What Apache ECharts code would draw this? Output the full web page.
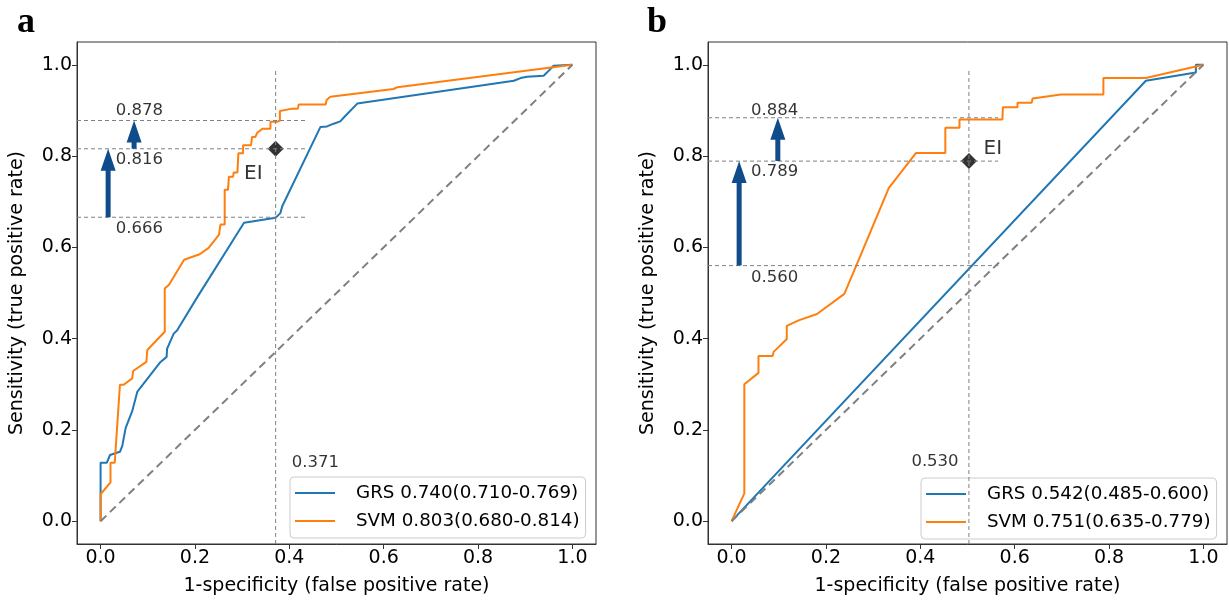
<!DOCTYPE html>
<html>
<head>
<meta charset="utf-8">
<script src="https://cdn.jsdelivr.net/npm/echarts@6/dist/echarts.min.js"></script>
<style>
  html, body { margin: 0; padding: 0; background: #fff; }
  #main { width: 1229px; height: 601px; }
</style>
</head>
<body>
<div id="main"></div>
<script>
// data: ROC curves, [fpr, tpr]
var grsA = [[0,0],[0,0.128],[0.013,0.128],[0.020,0.145],[0.041,0.152],[0.046,0.165],[0.053,0.204],[0.067,0.241],
  [0.078,0.284],[0.127,0.349],[0.140,0.360],[0.141,0.378],[0.155,0.411],[0.162,0.418],[0.205,0.491],[0.304,0.654],
  [0.371,0.665],[0.381,0.675],[0.385,0.690],[0.466,0.864],[0.480,0.865],[0.494,0.871],[0.508,0.876],[0.516,0.885],
  [0.544,0.915],[0.876,0.965],[0.890,0.971],[0.904,0.974],[0.939,0.976],[0.946,0.983],[0.960,0.998],[1,1]];
var svmA = [[0,0],[0,0.059],[0.021,0.085],[0.021,0.128],[0.030,0.128],[0.041,0.299],[0.049,0.299],[0.067,0.313],
  [0.069,0.329],[0.097,0.349],[0.099,0.375],[0.136,0.415],[0.136,0.510],[0.145,0.518],[0.177,0.573],[0.210,0.585],
  [0.229,0.599],[0.251,0.628],[0.254,0.650],[0.263,0.650],[0.263,0.726],[0.270,0.726],[0.272,0.755],[0.281,0.755],
  [0.282,0.764],[0.290,0.764],[0.292,0.806],[0.302,0.806],[0.302,0.824],[0.319,0.824],[0.321,0.842],[0.328,0.842],
  [0.332,0.851],[0.343,0.860],[0.360,0.860],[0.360,0.875],[0.374,0.875],[0.380,0.878],[0.380,0.899],[0.406,0.904],
  [0.418,0.904],[0.420,0.913],[0.477,0.913],[0.479,0.923],[0.487,0.930],[0.621,0.947],[0.629,0.951],[1,1]];
var grsB = [[0,0],[0.878,0.965],[0.984,0.983],[0.984,1.0],[1,1]];
var svmB = [[0,0],[0.027,0.061],[0.027,0.300],[0.057,0.325],[0.057,0.362],[0.087,0.362],[0.089,0.371],[0.117,0.399],
  [0.117,0.428],[0.142,0.440],[0.181,0.454],[0.239,0.498],[0.270,0.574],[0.330,0.722],[0.333,0.730],[0.391,0.807],
  [0.453,0.807],[0.453,0.862],[0.483,0.862],[0.483,0.880],[0.574,0.880],[0.575,0.907],[0.606,0.907],[0.606,0.917],
  [0.636,0.917],[0.638,0.926],[0.698,0.935],[0.788,0.935],[0.788,0.971],[0.878,0.971],[1,1]];
var diag = [[0,0],[1,1]];

var namesA = ["GRS 0.740(0.710-0.769)", "SVM 0.803(0.680-0.814)"];
var namesB = ["GRS 0.542(0.485-0.600)", "SVM 0.751(0.635-0.779)"];

// cut-off point, sensitivity levels, reach of the dashed guide lines
var cutA = [0.371, 0.816];
var levelsA = [0.666, 0.816, 0.878];
var reachA = 0.435;
var cutB = [0.503, 0.789];
var levelsB = [0.560, 0.789, 0.884];
var reachB = 0.565;

// arrows: [x, from, to]
var arrowsA = [[0.016, 0.666, 0.816], [0.071, 0.816, 0.878]];
var arrowsB = [[0.016, 0.560, 0.789], [0.098, 0.789, 0.884]];

// text notes: [x, y, text]
var notesA = [[0.031, 0.900, "0.878"], [0.031, 0.791, "0.816"], [0.031, 0.641, "0.666"], [0.404, 0.128, "0.371"]];
var notesB = [[0.040, 0.900, "0.884"], [0.040, 0.766, "0.789"], [0.040, 0.534, "0.560"], [0.380, 0.130, "0.530"]];
var eiA = [0.303, 0.762];
var eiB = [0.533, 0.817];

var ticks = [0, 0.2, 0.4, 0.6, 0.8, 1.0];

var font = "DejaVu Sans";
var blue = "#1f77b4", orange = "#ff7f0e", gray = "#808080", navy = "#0f4c89";

function makeAxis(idx, isX) {
  return {
    type: "value", gridIndex: idx, min: -0.05, max: 1.05,
    name: isX ? "1-specificity (false positive rate)" : "Sensitivity (true positive rate)",
    nameLocation: "middle", nameGap: isX ? 33 : 50,
    nameTextStyle: { fontFamily: font, fontSize: 19, color: "#000" },
    axisLine: { show: true, onZero: false, lineStyle: { color: "#333", width: 1 } },
    axisTick: { show: true, inside: false, length: 5, customValues: ticks, lineStyle: { color: "#333" } },
    axisLabel: { customValues: ticks, fontFamily: font, fontSize: 19, color: "#000", margin: 5,
      formatter: function (v) { return v.toFixed(1); } },
    splitLine: { show: false }
  };
}

function curve(name, data, color, idx) {
  return { name: name, type: "line", data: data, xAxisIndex: idx, yAxisIndex: idx, showSymbol: false,
    lineStyle: { color: color, width: 2 }, itemStyle: { color: color }, z: 5 };
}

function dashed(data, idx, width, dash) {
  return { type: "line", data: data, xAxisIndex: idx, yAxisIndex: idx, showSymbol: false, silent: true,
    lineStyle: { color: gray, width: width, type: dash }, z: 6 };
}

function guides(cut, levels, reach, idx) {
  var out = [dashed([[cut[0], -0.05], [cut[0], 0.99]], idx, 1, [4, 3])];
  levels.forEach(function (l) { out.push(dashed([[-0.05, l], [reach, l]], idx, 1, [4, 3])); });
  return out;
}

function arrows(data, idx) {
  return {
    type: "custom", xAxisIndex: idx, yAxisIndex: idx, data: data, z: 7,
    encode: { x: 0, y: [1, 2] },
    renderItem: function (params, api) {
      var p0 = api.coord([api.value(0), api.value(1)]);
      var p1 = api.coord([api.value(0), api.value(2)]);
      var x = p0[0], hl = 22, hw = 7.5, sw = 2.5;
      var b = p1[1] + hl;
      return { type: "polygon", shape: { points: [[x - sw, p0[1]], [x - sw, b], [x - hw, b], [x, p1[1]],
        [x + hw, b], [x + sw, b], [x + sw, p0[1]]] }, style: { fill: navy } };
    }
  };
}

function notes(data, idx, size) {
  return {
    type: "scatter", xAxisIndex: idx, yAxisIndex: idx, data: data, symbolSize: 1, silent: true,
    itemStyle: { color: "transparent" }, z: 8,
    label: { show: true, position: "right", distance: 0, fontFamily: font, fontSize: size, color: "#000",
      formatter: function (p) { return p.value[2]; } }
  };
}

function marker(pt, idx) {
  return { type: "scatter", xAxisIndex: idx, yAxisIndex: idx, data: [pt], symbol: "diamond", symbolSize: 16,
    itemStyle: { color: "#000" }, z: 4 };
}

function legend(names, left, top) {
  return {
    data: names, orient: "vertical", left: left, top: top, icon: "rect", itemWidth: 40, itemHeight: 2,
    itemGap: 8, padding: [6, 6, 7, 5], borderColor: "#ccc", borderWidth: 1, borderRadius: 4,
    backgroundColor: "#fff",
    textStyle: { fontFamily: font, fontSize: 18.3, color: "#000", lineHeight: 20, padding: [0, 0, 0, 16] }
  };
}

var series = [
  dashed(diag, 0, 2, [8, 5]),
  curve(namesA[0], grsA, blue, 0),
  curve(namesA[1], svmA, orange, 0),
  marker(cutA, 0),
  arrows(arrowsA, 0),
  notes(notesA, 0, 16.5),
  notes([[eiA[0], eiA[1], "EI"]], 0, 20),
  dashed(diag, 1, 2, [8, 5]),
  curve(namesB[0], grsB, blue, 1),
  curve(namesB[1], svmB, orange, 1),
  marker(cutB, 1),
  arrows(arrowsB, 1),
  notes(notesB, 1, 16.5),
  notes([[eiB[0], eiB[1], "EI"]], 1, 20)
].concat(guides(cutA, levelsA, reachA, 0), guides(cutB, levelsB, reachB, 1));

var option = {
  animation: false,
  backgroundColor: "#fff",
  title: [
    { text: "a", left: 12, top: 0, textStyle: { fontFamily: "Liberation Serif", fontWeight: "bold", fontSize: 36, color: "#000" } },
    { text: "b", left: 642, top: 0, textStyle: { fontFamily: "Liberation Serif", fontWeight: "bold", fontSize: 36, color: "#000" } }
  ],
  grid: [
    { left: 77, top: 42, width: 519, height: 504, show: true, borderColor: "#333", borderWidth: 1 },
    { left: 708, top: 42, width: 519, height: 504, show: true, borderColor: "#333", borderWidth: 1 }
  ],
  xAxis: [makeAxis(0, true), makeAxis(1, true)],
  yAxis: [makeAxis(0, false), makeAxis(1, false)],
  legend: [legend(namesA, 290, 477), legend(namesB, 921, 478)],
  series: series
};

var myChart = echarts.init(document.getElementById("main"));
myChart.setOption(option);
</script>
</body>
</html>
